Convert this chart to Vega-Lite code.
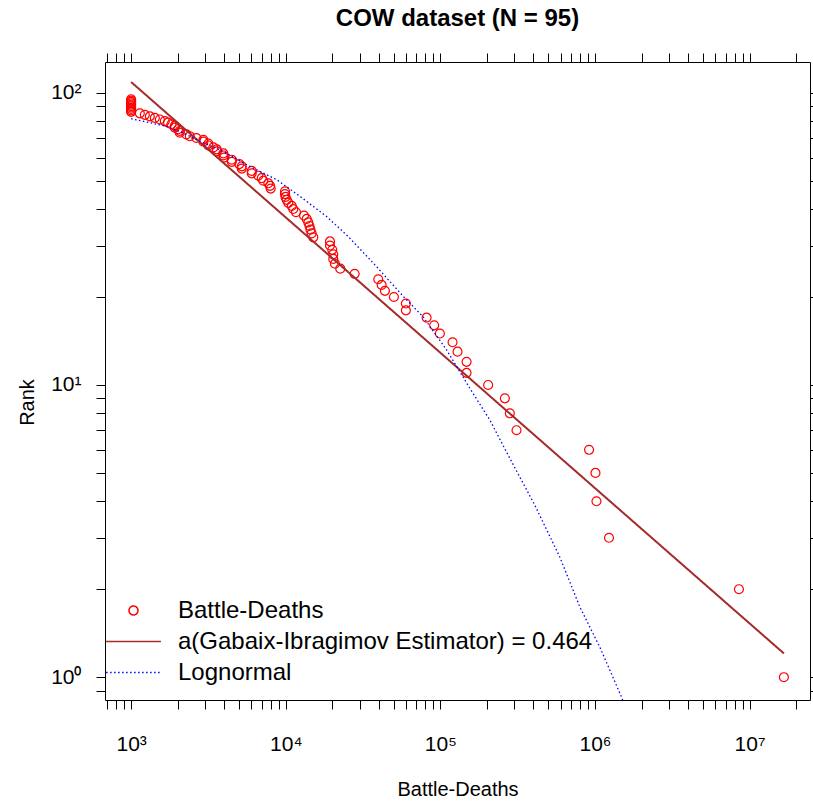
{
  "$schema": "https://vega.github.io/schema/vega-lite/v6.json",
  "width": 705,
  "height": 638,
  "autosize": {"type": "none"},
  "padding": {"left": 105, "top": 62, "right": 3, "bottom": 102},
  "background": "white",
  "title": {"text": "COW dataset (N = 95)", "font": "Liberation Sans", "fontSize": 24, "fontWeight": "bold", "color": "black", "anchor": "middle", "frame": "group", "offset": -2, "baseline": "bottom"},
  "config": {
    "view": {"stroke": "black", "strokeWidth": 1},
    "axis": {"labelFont": "Liberation Sans", "labelFontSize": 21, "labelColor": "black", "tickColor": "black", "tickWidth": 1, "tickSize": 9, "domain": false, "grid": false, "titleFont": "Liberation Sans", "titleFontSize": 20, "titleFontWeight": "normal", "titleColor": "black", "labelOverlap": false, "labelFlush": false},
    "legend": {"padding": 0, "labelFont": "Liberation Sans", "labelFontSize": 24, "labelColor": "black", "labelLimit": 700, "labelOffset": 16, "clipHeight": 31, "rowPadding": 0, "symbolStrokeWidth": 1.5}
  },
  "datasets": {
    "pts": [
      {"rank": 1, "deaths": 16660000, "series": "Battle-Deaths"},
      {"rank": 2, "deaths": 8531000, "series": "Battle-Deaths"},
      {"rank": 3, "deaths": 1232000, "series": "Battle-Deaths"},
      {"rank": 4, "deaths": 1022000, "series": "Battle-Deaths"},
      {"rank": 5, "deaths": 1007000, "series": "Battle-Deaths"},
      {"rank": 6, "deaths": 915500, "series": "Battle-Deaths"},
      {"rank": 7, "deaths": 310700, "series": "Battle-Deaths"},
      {"rank": 8, "deaths": 281300, "series": "Battle-Deaths"},
      {"rank": 9, "deaths": 261200, "series": "Battle-Deaths"},
      {"rank": 10, "deaths": 203700, "series": "Battle-Deaths"},
      {"rank": 11, "deaths": 147700, "series": "Battle-Deaths"},
      {"rank": 12, "deaths": 147700, "series": "Battle-Deaths"},
      {"rank": 13, "deaths": 129100, "series": "Battle-Deaths"},
      {"rank": 14, "deaths": 119900, "series": "Battle-Deaths"},
      {"rank": 15, "deaths": 99260, "series": "Battle-Deaths"},
      {"rank": 16, "deaths": 91190, "series": "Battle-Deaths"},
      {"rank": 17, "deaths": 81430, "series": "Battle-Deaths"},
      {"rank": 18, "deaths": 59840, "series": "Battle-Deaths"},
      {"rank": 19, "deaths": 59840, "series": "Battle-Deaths"},
      {"rank": 20, "deaths": 50060, "series": "Battle-Deaths"},
      {"rank": 21, "deaths": 43790, "series": "Battle-Deaths"},
      {"rank": 22, "deaths": 41690, "series": "Battle-Deaths"},
      {"rank": 23, "deaths": 39640, "series": "Battle-Deaths"},
      {"rank": 24, "deaths": 27900, "series": "Battle-Deaths"},
      {"rank": 25, "deaths": 22520, "series": "Battle-Deaths"},
      {"rank": 26, "deaths": 20810, "series": "Battle-Deaths"},
      {"rank": 27, "deaths": 20290, "series": "Battle-Deaths"},
      {"rank": 28, "deaths": 20290, "series": "Battle-Deaths"},
      {"rank": 29, "deaths": 19990, "series": "Battle-Deaths"},
      {"rank": 30, "deaths": 19320, "series": "Battle-Deaths"},
      {"rank": 31, "deaths": 19320, "series": "Battle-Deaths"},
      {"rank": 32, "deaths": 15070, "series": "Battle-Deaths"},
      {"rank": 33, "deaths": 14710, "series": "Battle-Deaths"},
      {"rank": 34, "deaths": 14450, "series": "Battle-Deaths"},
      {"rank": 35, "deaths": 14240, "series": "Battle-Deaths"},
      {"rank": 36, "deaths": 13990, "series": "Battle-Deaths"},
      {"rank": 37, "deaths": 13660, "series": "Battle-Deaths"},
      {"rank": 38, "deaths": 13120, "series": "Battle-Deaths"},
      {"rank": 39, "deaths": 11650, "series": "Battle-Deaths"},
      {"rank": 40, "deaths": 11190, "series": "Battle-Deaths"},
      {"rank": 41, "deaths": 10925, "series": "Battle-Deaths"},
      {"rank": 42, "deaths": 10390, "series": "Battle-Deaths"},
      {"rank": 43, "deaths": 10140, "series": "Battle-Deaths"},
      {"rank": 44, "deaths": 9964, "series": "Battle-Deaths"},
      {"rank": 45, "deaths": 9890, "series": "Battle-Deaths"},
      {"rank": 46, "deaths": 9890, "series": "Battle-Deaths"},
      {"rank": 47, "deaths": 7993, "series": "Battle-Deaths"},
      {"rank": 48, "deaths": 7911, "series": "Battle-Deaths"},
      {"rank": 49, "deaths": 7714, "series": "Battle-Deaths"},
      {"rank": 50, "deaths": 7159, "series": "Battle-Deaths"},
      {"rank": 51, "deaths": 6991, "series": "Battle-Deaths"},
      {"rank": 52, "deaths": 6646, "series": "Battle-Deaths"},
      {"rank": 53, "deaths": 6026, "series": "Battle-Deaths"},
      {"rank": 54, "deaths": 6026, "series": "Battle-Deaths"},
      {"rank": 55, "deaths": 5192, "series": "Battle-Deaths"},
      {"rank": 56, "deaths": 5192, "series": "Battle-Deaths"},
      {"rank": 57, "deaths": 5009, "series": "Battle-Deaths"},
      {"rank": 58, "deaths": 4474, "series": "Battle-Deaths"},
      {"rank": 59, "deaths": 4474, "series": "Battle-Deaths"},
      {"rank": 60, "deaths": 3990, "series": "Battle-Deaths"},
      {"rank": 61, "deaths": 3949, "series": "Battle-Deaths"},
      {"rank": 62, "deaths": 3949, "series": "Battle-Deaths"},
      {"rank": 63, "deaths": 3580, "series": "Battle-Deaths"},
      {"rank": 64, "deaths": 3580, "series": "Battle-Deaths"},
      {"rank": 65, "deaths": 3403, "series": "Battle-Deaths"},
      {"rank": 66, "deaths": 3159, "series": "Battle-Deaths"},
      {"rank": 67, "deaths": 3159, "series": "Battle-Deaths"},
      {"rank": 68, "deaths": 2933, "series": "Battle-Deaths"},
      {"rank": 69, "deaths": 2933, "series": "Battle-Deaths"},
      {"rank": 70, "deaths": 2642, "series": "Battle-Deaths"},
      {"rank": 71, "deaths": 2395, "series": "Battle-Deaths"},
      {"rank": 72, "deaths": 2277, "series": "Battle-Deaths"},
      {"rank": 73, "deaths": 2064, "series": "Battle-Deaths"},
      {"rank": 74, "deaths": 2064, "series": "Battle-Deaths"},
      {"rank": 75, "deaths": 2012, "series": "Battle-Deaths"},
      {"rank": 76, "deaths": 1916, "series": "Battle-Deaths"},
      {"rank": 77, "deaths": 1916, "series": "Battle-Deaths"},
      {"rank": 78, "deaths": 1822, "series": "Battle-Deaths"},
      {"rank": 79, "deaths": 1734, "series": "Battle-Deaths"},
      {"rank": 80, "deaths": 1651, "series": "Battle-Deaths"},
      {"rank": 81, "deaths": 1533, "series": "Battle-Deaths"},
      {"rank": 82, "deaths": 1423, "series": "Battle-Deaths"},
      {"rank": 83, "deaths": 1321, "series": "Battle-Deaths"},
      {"rank": 84, "deaths": 1226, "series": "Battle-Deaths"},
      {"rank": 85, "deaths": 1138, "series": "Battle-Deaths"},
      {"rank": 86, "deaths": 1000, "series": "Battle-Deaths"},
      {"rank": 87, "deaths": 1000, "series": "Battle-Deaths"},
      {"rank": 88, "deaths": 1000, "series": "Battle-Deaths"},
      {"rank": 89, "deaths": 1000, "series": "Battle-Deaths"},
      {"rank": 90, "deaths": 1000, "series": "Battle-Deaths"},
      {"rank": 91, "deaths": 1000, "series": "Battle-Deaths"},
      {"rank": 92, "deaths": 1000, "series": "Battle-Deaths"},
      {"rank": 93, "deaths": 1000, "series": "Battle-Deaths"},
      {"rank": 94, "deaths": 1000, "series": "Battle-Deaths"},
      {"rank": 95, "deaths": 1000, "series": "Battle-Deaths"}
    ],
    "pow": [
      {"deaths": 1000, "rank": 108.8, "series": "a(Gabaix-Ibragimov Estimator) = 0.464"},
      {"deaths": 10000, "rank": 37.44, "series": "a(Gabaix-Ibragimov Estimator) = 0.464"},
      {"deaths": 100000, "rank": 12.89, "series": "a(Gabaix-Ibragimov Estimator) = 0.464"},
      {"deaths": 1000000, "rank": 4.436, "series": "a(Gabaix-Ibragimov Estimator) = 0.464"},
      {"deaths": 16660000, "rank": 1.206, "series": "a(Gabaix-Ibragimov Estimator) = 0.464"}
    ],
    "lnorm": [
      {"deaths": 1000, "rank": 81.5, "series": "Lognormal"},
      {"deaths": 1701, "rank": 76.7, "series": "Lognormal"},
      {"deaths": 2178, "rank": 72.8, "series": "Lognormal"},
      {"deaths": 2792, "rank": 68.1, "series": "Lognormal"},
      {"deaths": 3948, "rank": 63.0, "series": "Lognormal"},
      {"deaths": 5875, "rank": 55.9, "series": "Lognormal"},
      {"deaths": 8740, "rank": 50.4, "series": "Lognormal"},
      {"deaths": 12360, "rank": 44.2, "series": "Lognormal"},
      {"deaths": 18390, "rank": 37.7, "series": "Lognormal"},
      {"deaths": 25350, "rank": 32.2, "series": "Lognormal"},
      {"deaths": 38700, "rank": 25.4, "series": "Lognormal"},
      {"deaths": 57500, "rank": 20.1, "series": "Lognormal"},
      {"deaths": 77400, "rank": 17.1, "series": "Lognormal"},
      {"deaths": 109600, "rank": 13.2, "series": "Lognormal"},
      {"deaths": 155100, "rank": 9.74, "series": "Lognormal"},
      {"deaths": 208900, "rank": 7.59, "series": "Lognormal"},
      {"deaths": 281300, "rank": 5.61, "series": "Lognormal"},
      {"deaths": 408000, "rank": 3.88, "series": "Lognormal"},
      {"deaths": 591600, "rank": 2.58, "series": "Lognormal"},
      {"deaths": 797800, "rank": 1.74, "series": "Lognormal"},
      {"deaths": 1073000, "rank": 1.27, "series": "Lognormal"},
      {"deaths": 1483000, "rank": 0.856, "series": "Lognormal"},
      {"deaths": 1560000, "rank": 0.80, "series": "Lognormal"}
    ]
  },
  "layer": [
    {
      "data": {"name": "pts"},
      "mark": {"type": "point", "filled": false, "strokeWidth": 1.2, "opacity": 1},
      "encoding": {
        "x": {"field": "deaths", "type": "quantitative",
          "scale": {"type": "log", "domain": [677.6, 24580000], "nice": false, "zero": false},
          "axis": {"orient": "bottom", "title": "Battle-Deaths", "titleY": 89, "titleBaseline": "middle", "labelPadding": 24,
            "values": [700, 800, 900, 1000, 2000, 3000, 4000, 5000, 6000, 7000, 8000, 9000, 10000, 20000, 30000, 40000, 50000, 60000, 70000, 80000, 90000, 100000, 200000, 300000, 400000, 500000, 600000, 700000, 800000, 900000, 1000000, 2000000, 3000000, 4000000, 5000000, 6000000, 7000000, 8000000, 9000000, 10000000, 20000000],
            "labelExpr": "abs(log(datum.value)/LN10 - round(log(datum.value)/LN10)) < 0.001 ? '10' + ['⁰','¹','²','³','⁴','⁵','⁶','⁷'][round(log(datum.value)/LN10)] : ''",
            "encode": {"ticks": {"y2": {"value": {"expr": "abs(log(datum.value)/LN10 - round(log(datum.value)/LN10)) < 0.001 ? 9 : 5"}}}}}},
        "y": {"field": "rank", "type": "quantitative",
          "scale": {"type": "log", "domain": [0.8356, 127.4], "nice": false, "zero": false},
          "axis": {"orient": "left", "title": "Rank", "titleX": -78, "titleY": 340, "titleBaseline": "middle", "titleAngle": -90, "labelPadding": 15,
            "values": [0.9, 1, 2, 3, 4, 5, 6, 7, 8, 9, 10, 20, 30, 40, 50, 60, 70, 80, 90, 100],
            "labelExpr": "abs(log(datum.value)/LN10 - round(log(datum.value)/LN10)) < 0.001 ? '10' + ['⁰','¹','²','³','⁴','⁵','⁶','⁷'][round(log(datum.value)/LN10)] : ''",
            "encode": {"ticks": {"x2": {"value": {"expr": "abs(log(datum.value)/LN10 - round(log(datum.value)/LN10)) < 0.001 ? -9 : -5"}}}}}},
        "color": {"field": "series", "type": "nominal",
          "scale": {"domain": ["Battle-Deaths", "a(Gabaix-Ibragimov Estimator) = 0.464", "Lognormal"], "range": ["#FF0000", "#A52A2A", "#0000FF"]},
          "legend": {"orient": "none", "legendX": 0, "legendY": 533, "title": null}},
        "shape": {"field": "series", "type": "nominal",
          "scale": {"domain": ["Battle-Deaths", "a(Gabaix-Ibragimov Estimator) = 0.464", "Lognormal"], "range": ["circle", "stroke", "stroke"]},
          "legend": {"orient": "none", "legendX": 0, "legendY": 533, "title": null}},
        "size": {"field": "series", "type": "nominal",
          "scale": {"type": "ordinal", "domain": ["Battle-Deaths", "a(Gabaix-Ibragimov Estimator) = 0.464", "Lognormal"], "range": [80, 3000, 3000]},
          "legend": {"orient": "none", "legendX": 0, "legendY": 533, "title": null}}
      }
    },
    {
      "data": {"name": "pow"},
      "mark": {"type": "line", "strokeWidth": 2},
      "encoding": {
        "x": {"field": "deaths", "type": "quantitative",
          "axis": {"orient": "top", "labels": false, "title": null,
            "values": [700, 800, 900, 1000, 2000, 3000, 4000, 5000, 6000, 7000, 8000, 9000, 10000, 20000, 30000, 40000, 50000, 60000, 70000, 80000, 90000, 100000, 200000, 300000, 400000, 500000, 600000, 700000, 800000, 900000, 1000000, 2000000, 3000000, 4000000, 5000000, 6000000, 7000000, 8000000, 9000000, 10000000, 20000000],
            "encode": {"ticks": {"y2": {"value": {"expr": "abs(log(datum.value)/LN10 - round(log(datum.value)/LN10)) < 0.001 ? -9 : -5"}}}}}},
        "y": {"field": "rank", "type": "quantitative",
          "axis": {"orient": "right", "labels": false, "title": null,
            "values": [0.9, 1, 2, 3, 4, 5, 6, 7, 8, 9, 10, 20, 30, 40, 50, 60, 70, 80, 90, 100],
            "encode": {"ticks": {"x2": {"value": {"expr": "abs(log(datum.value)/LN10 - round(log(datum.value)/LN10)) < 0.001 ? 9 : 5"}}}}}},
        "color": {"field": "series", "type": "nominal", "legend": {"orient": "none", "legendX": 0, "legendY": 533, "title": null}},
        "strokeDash": {"field": "series", "type": "nominal",
          "scale": {"domain": ["Battle-Deaths", "a(Gabaix-Ibragimov Estimator) = 0.464", "Lognormal"], "range": [[1, 0], [1, 0], [1.5, 2.5]]},
          "legend": {"orient": "none", "legendX": 0, "legendY": 533, "title": null}}
      }
    },
    {
      "data": {"name": "lnorm"},
      "mark": {"type": "line", "strokeWidth": 1.3, "clip": true},
      "encoding": {
        "x": {"field": "deaths", "type": "quantitative", "axis": null},
        "y": {"field": "rank", "type": "quantitative", "axis": null},
        "color": {"field": "series", "type": "nominal", "legend": {"orient": "none", "legendX": 0, "legendY": 533, "title": null}},
        "strokeDash": {"field": "series", "type": "nominal", "legend": {"orient": "none", "legendX": 0, "legendY": 533, "title": null}}
      }
    }
  ],
  "resolve": {"axis": {"x": "independent", "y": "independent"}}
}
